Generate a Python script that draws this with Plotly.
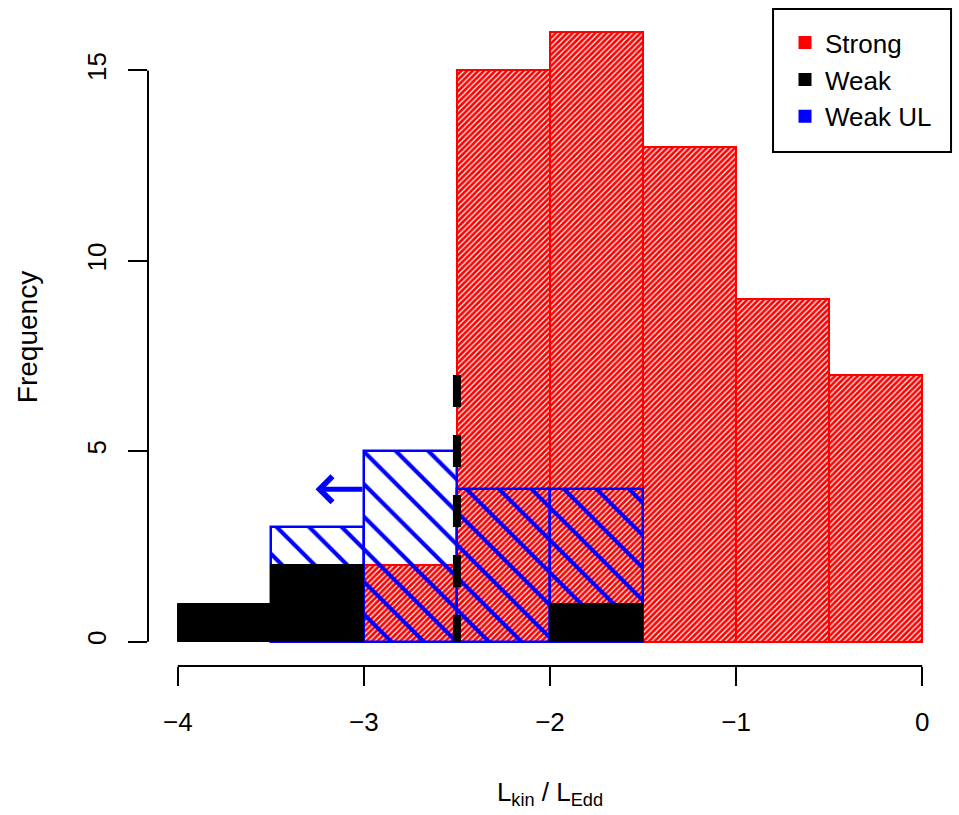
import plotly.graph_objects as go

# Histogram bins (width 0.5) of log kinetic-to-Eddington luminosity ratio
bin_left = [-4.0, -3.5, -3.0, -2.5, -2.0, -1.5, -1.0, -0.5]
bin_width = 0.5
strong = [0, 0, 2, 15, 16, 13, 9, 7]
weak = [1, 2, 0, 0, 1, 0, 0, 0]
weak_ul = [0, 3, 5, 4, 4, 0, 0, 0]

x_ticks = [-4, -3, -2, -1, 0]
y_ticks = [0, 5, 10, 15]

# Threshold marker and the upper-limit arrow
threshold_x = -2.5
threshold_top = 7
arrow_tail_x = -3.0
arrow_tip_x = -3.26
arrow_y = 4

FONT = "Liberation Sans, Arial, sans-serif"


def nonzero(counts):
    xs, ys = [], []
    for left, c in zip(bin_left, counts):
        if c > 0:
            xs.append(left + bin_width / 2)
            ys.append(c)
    return xs, ys


fig = go.Figure()

sx, sy = nonzero(strong)
fig.add_trace(go.Bar(
    x=sx, y=sy, width=bin_width, showlegend=False, hoverinfo="skip",
    marker=dict(
        color="red",
        line=dict(color="red", width=2),
        pattern=dict(shape="/", fgcolor="white", bgcolor="red",
                     size=4, solidity=0.3, fillmode="replace"),
    ),
))

ux, uy = nonzero(weak_ul)
fig.add_trace(go.Bar(
    x=ux, y=uy, width=bin_width, showlegend=False, hoverinfo="skip",
    marker=dict(
        color="rgba(0,0,0,0)",
        line=dict(color="blue", width=2.5),
        pattern=dict(shape="\\", fgcolor="blue", bgcolor="rgba(0,0,0,0)",
                     size=23, solidity=0.18, fillmode="replace"),
    ),
))

wx, wy = nonzero(weak)
fig.add_trace(go.Bar(
    x=wx, y=wy, width=bin_width, showlegend=False, hoverinfo="skip",
    marker=dict(color="black", line=dict(color="black", width=1)),
))

# Legend entries as plain filled squares
for name, col in [("Strong", "red"), ("Weak", "black"), ("Weak UL", "blue")]:
    fig.add_trace(go.Scatter(
        x=[None], y=[None], mode="markers", name=name,
        marker=dict(symbol="square", size=13, color=col),
    ))

# Dashed threshold line, drawn from the top down
fig.add_shape(type="line", xref="x", yref="y",
              x0=threshold_x, x1=threshold_x, y0=threshold_top, y1=0,
              line=dict(color="black", width=8, dash="32px,28px"))

# Axis lines spanning only the tick range
fig.add_shape(type="line", xref="x", yref="paper",
              x0=x_ticks[0], x1=x_ticks[-1], y0=0, y1=0,
              line=dict(color="black", width=2))
fig.add_shape(type="line", xref="paper", yref="y",
              x0=0, x1=0, y0=y_ticks[0], y1=y_ticks[-1],
              line=dict(color="black", width=2))

# Legend frame
fig.add_shape(type="rect", xref="paper", yref="paper",
              x0=0.7774, x1=0.9988, y0=0.7812, y1=0.9985,
              line=dict(color="black", width=2), fillcolor="white", layer="below")

# Upper-limit arrow
fig.add_annotation(
    x=arrow_tip_x, y=arrow_y, ax=arrow_tail_x, ay=arrow_y,
    xref="x", yref="y", axref="x", ayref="y",
    text="", showarrow=True, arrowhead=4, arrowsize=1.0,
    arrowwidth=5, arrowcolor="blue", standoff=0, startstandoff=0,
)

fig.update_layout(
    width=959, height=815,
    margin=dict(l=148, r=7, t=8, b=149),
    paper_bgcolor="white", plot_bgcolor="white",
    barmode="overlay", bargap=0,
    font=dict(family=FONT, size=26, color="black"),
    legend=dict(
        x=0.7923, y=0.983, xanchor="left", yanchor="top",
        bgcolor="rgba(0,0,0,0)", borderwidth=0,
        font=dict(family=FONT, size=26, color="black"),
        itemwidth=30,
    ),
    xaxis=dict(
        range=[-4.16, 0.16], showgrid=False, zeroline=False, showline=False,
        tickmode="array", tickvals=x_ticks, ticks="outside", ticklen=19,
        tickwidth=2, tickcolor="black", ticklabelstandoff=14,
        title=dict(text="L<sub>kin</sub> / L<sub>Edd</sub>", standoff=46,
                   font=dict(size=26)),
    ),
    yaxis=dict(
        range=[-0.64, 16.64], showgrid=False, zeroline=False, showline=False,
        tickmode="array", tickvals=y_ticks, ticks="outside", ticklen=19,
        tickwidth=2, tickcolor="black", tickangle=-90, ticklabelstandoff=12,
        title=dict(text="Frequency", standoff=35, font=dict(size=28)),
    ),
)

fig.write_html("out.html")
